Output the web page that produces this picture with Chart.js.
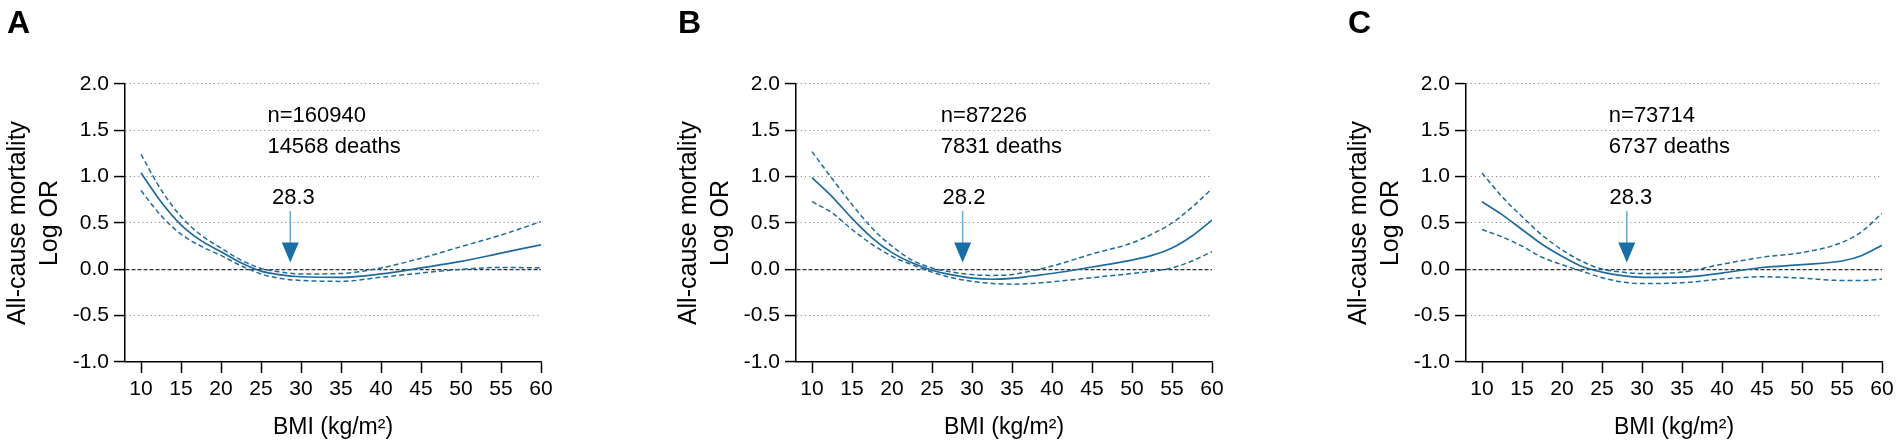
<!DOCTYPE html>
<html>
<head>
<meta charset="utf-8">
<script src="https://cdn.jsdelivr.net/npm/chart.js@4.4.1/dist/chart.umd.min.js"></script>
<style>
  html, body { margin: 0; padding: 0; background: #fff; width: 1901px; height: 448px; overflow: hidden; }
  .panel { position: absolute; top: 0; width: 600px; height: 448px; }
</style>
</head>
<body>
<div class="panel" style="left:0px"><canvas id="cA"></canvas></div>
<div class="panel" style="left:671px"><canvas id="cB"></canvas></div>
<div class="panel" style="left:1341px"><canvas id="cC"></canvas></div>
<script>
// ---------- data ----------
const xTicks = [10, 15, 20, 25, 30, 35, 40, 45, 50, 55, 60];
const yTicks = [-1.0, -0.5, 0.0, 0.5, 1.0, 1.5, 2.0];

const bmiA   = [10, 12.5, 15, 17.5, 20, 22.5, 25, 27.5, 30, 35, 40, 45, 50, 55, 60];
const fitA   = [1.04, 0.73, 0.48, 0.31, 0.19, 0.07, -0.02, -0.06, -0.08, -0.087, -0.05, 0.015, 0.085, 0.175, 0.265];
const upperA = [1.24, 0.86, 0.57, 0.37, 0.23, 0.10, 0.01, -0.03, -0.05, -0.045, 0.015, 0.12, 0.245, 0.37, 0.515];
const lowerA = [0.85, 0.58, 0.38, 0.25, 0.15, 0.04, -0.05, -0.10, -0.12, -0.13, -0.085, -0.04, 0.0, 0.02, 0.015];

const bmiB   = [10, 12.5, 15, 17.5, 20, 22.5, 25, 27.5, 30, 32.5, 35, 37.5, 40, 45, 50, 52.5, 55, 57.5, 60];
const fitB   = [0.99, 0.785, 0.55, 0.34, 0.18, 0.07, -0.01, -0.06, -0.095, -0.107, -0.098, -0.072, -0.045, 0.025, 0.10, 0.15, 0.23, 0.36, 0.53];
const upperB = [1.27, 0.98, 0.70, 0.445, 0.25, 0.10, 0.015, -0.03, -0.057, -0.066, -0.055, -0.015, 0.035, 0.165, 0.285, 0.38, 0.50, 0.67, 0.87];
const lowerB = [0.73, 0.61, 0.43, 0.27, 0.14, 0.05, -0.03, -0.09, -0.13, -0.152, -0.16, -0.152, -0.135, -0.09, -0.045, -0.02, 0.015, 0.09, 0.19];

const bmiC   = [10, 12.5, 15, 17.5, 20, 22.5, 25, 27.5, 30, 35, 40, 45, 50, 55, 57.5, 60];
const fitC   = [0.73, 0.59, 0.43, 0.27, 0.14, 0.03, -0.03, -0.068, -0.086, -0.085, -0.04, 0.02, 0.05, 0.09, 0.15, 0.26];
const upperC = [1.04, 0.785, 0.57, 0.37, 0.21, 0.086, 0.004, -0.03, -0.046, -0.03, 0.055, 0.13, 0.18, 0.29, 0.41, 0.605];
const lowerC = [0.43, 0.35, 0.25, 0.13, 0.05, -0.02, -0.09, -0.136, -0.154, -0.145, -0.105, -0.08, -0.095, -0.12, -0.12, -0.105];

const panelLetters = ['A', 'B', 'C'];
const sampleText   = ['n=160940', 'n=87226', 'n=73714'];
const deathsText   = ['14568 deaths', '7831 deaths', '6737 deaths'];
const optimumText  = ['28.3', '28.2', '28.3'];
const arrowX       = [28.66, 28.83, 28.1];
const textLeftX    = [25.8, 26.1, 25.85];
const labelCenterX = [29.05, 29.0, 28.6];
const sampleY = 1.65, deathsY = 1.32, labelY = 0.775;
const arrowTopY = 0.63, headTopY = 0.29, arrowTipY = 0.073;

const xTitle = 'BMI (kg/m²)';
const yTitle = ['All-cause mortality', 'Log OR'];

// ---------- drawing ----------
const FONT = "'Liberation Sans', Arial, Helvetica, sans-serif";
const CURVE = '#1f6b9b';

function toXY(xs, ys) { return xs.map((x, i) => ({ x: x, y: ys[i] })); }

const annotate = {
  id: 'annotate',
  afterDatasetsDraw(chart) {
    const i = chart.options.plugins.annotate.idx;
    const ctx = chart.ctx, xs = chart.scales.x, ys = chart.scales.y;
    ctx.save();
    // panel letter
    ctx.fillStyle = '#000';
    ctx.font = 'bold 32px ' + FONT;
    ctx.textAlign = 'left';
    ctx.textBaseline = 'alphabetic';
    ctx.fillText(panelLetters[i], 7, 33);
    // sample texts
    ctx.font = '22px ' + FONT;
    ctx.textBaseline = 'middle';
    ctx.fillText(sampleText[i], xs.getPixelForValue(textLeftX[i]), ys.getPixelForValue(sampleY));
    ctx.fillText(deathsText[i], xs.getPixelForValue(textLeftX[i]), ys.getPixelForValue(deathsY));
    ctx.textAlign = 'center';
    ctx.fillText(optimumText[i], xs.getPixelForValue(labelCenterX[i]), ys.getPixelForValue(labelY));
    // arrow
    const ax = xs.getPixelForValue(arrowX[i]);
    const yTop = ys.getPixelForValue(arrowTopY), yHead = ys.getPixelForValue(headTopY), yTip = ys.getPixelForValue(arrowTipY);
    ctx.strokeStyle = '#6aa9d3';
    ctx.lineWidth = 1.5;
    ctx.beginPath(); ctx.moveTo(ax, yTop); ctx.lineTo(ax, yHead + 1); ctx.stroke();
    ctx.fillStyle = '#1a6ea6';
    ctx.beginPath(); ctx.moveTo(ax - 8.5, yHead); ctx.lineTo(ax + 8.5, yHead); ctx.lineTo(ax, yTip); ctx.closePath(); ctx.fill();
    ctx.restore();
  }
};

function makeChart(id, idx, xs, fit, up, lo) {
  const line = (data, dash, w) => ({
    data: toXY(xs, data), borderColor: CURVE, borderWidth: w, borderDash: dash,
    pointRadius: 0, fill: false, tension: 0.4, cubicInterpolationMode: 'monotone'
  });
  return new Chart(document.getElementById(id), {
    type: 'line',
    data: { datasets: [line(fit, [], 1.7), line(up, [5, 3], 1.5), line(lo, [5, 3], 1.5)] },
    options: {
      responsive: true, maintainAspectRatio: false, animation: false,
      layout: { padding: { left: 0, right: 59, top: 84, bottom: 0 } },
      plugins: { legend: { display: false }, tooltip: { enabled: false }, annotate: { idx: idx } },
      scales: {
        x: {
          type: 'linear', min: 8, max: 60,
          afterBuildTicks: s => { s.ticks = xTicks.map(v => ({ value: v })); },
          afterFit: s => { s.height = 86; },
          ticks: { color: '#000', font: { family: FONT, size: 21 }, padding: 4, maxRotation: 0, autoSkip: false, callback: v => String(v) },
          grid: { drawOnChartArea: false, drawTicks: true, tickLength: 11, tickColor: '#000', tickWidth: 1.5 },
          border: { display: true, color: '#000', width: 1.5 },
          title: { display: true, text: xTitle, color: '#000', font: { family: FONT, size: 23 }, padding: { top: 0, bottom: 7 } }
        },
        y: {
          type: 'linear', min: -1, max: 2,
          afterBuildTicks: s => { s.ticks = yTicks.map(v => ({ value: v })); },
          afterFit: s => { s.width = 125; },
          ticks: { color: '#000', font: { family: FONT, size: 21 }, padding: 5, callback: v => Number(v).toFixed(1) },
          grid: {
            drawOnChartArea: true, drawTicks: true, tickLength: 11, tickColor: '#000', tickWidth: 1.5,
            color: c => (c.tick && c.tick.value === 0) ? '#333' : '#8c8c8c',
            lineWidth: c => (c.tick && c.tick.value === 0) ? 1.3 : 1.1
          },
          border: { display: true, color: '#000', width: 1.5,
            dash: c => (c.tick && c.tick.value === 0) ? [4, 2] : [1.2, 3] },
          title: { display: true, text: yTitle, color: '#000', font: { family: FONT, size: 25, lineHeight: 1.28 }, padding: { top: 2, bottom: 0 } }
        }
      }
    },
    plugins: [annotate]
  });
}

makeChart('cA', 0, bmiA, fitA, upperA, lowerA);
makeChart('cB', 1, bmiB, fitB, upperB, lowerB);
makeChart('cC', 2, bmiC, fitC, upperC, lowerC);
</script>
</body>
</html>
